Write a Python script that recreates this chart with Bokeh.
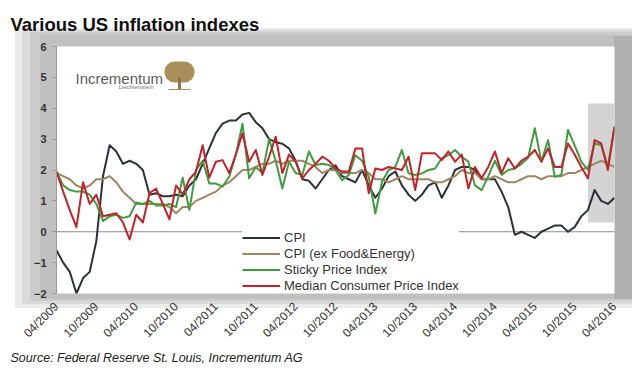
from math import pi
from bokeh.plotting import figure
from bokeh.models import (Range1d, FixedTicker, Span, BoxAnnotation, Label,
                          Legend, LegendItem, Title)
from bokeh.embed import file_html
from bokeh.resources import INLINE

# ---------------- data (month index 0 = 04/2009) ----------------
months = list(range(85))
tick_months = [0, 6, 12, 18, 24, 30, 36, 42, 48, 54, 60, 66, 72, 78, 84]
tick_labels = ["04/2009", "10/2009", "04/2010", "10/2010", "04/2011", "10/2011",
               "04/2012", "10/2012", "04/2013", "10/2013", "04/2014", "10/2014",
               "04/2015", "10/2015", "04/2016"]
y_ticks = [-2, -1, 0, 1, 2, 3, 4, 5, 6]

cpi = [-0.6, -1.0, -1.3, -2.0, -1.5, -1.3, -0.3, 1.8, 2.8,
       2.6, 2.2, 2.3, 2.2, 2.0, 1.2, 1.25, 1.15, 1.15, 1.2, 1.15, 1.5,
       1.7, 2.2, 2.7, 3.2, 3.5, 3.6, 3.6, 3.8, 3.85, 3.55, 3.35, 3.0,
       2.9, 2.85, 2.7, 2.3, 1.7, 1.65, 1.4, 1.7, 2.0, 2.15, 1.8, 1.7,
       1.6, 2.0, 1.5, 1.1, 1.4, 1.8, 1.95, 1.5, 1.2, 1.0, 1.2, 1.5,
       1.6, 1.1, 1.5, 2.0, 2.1, 2.1, 2.0, 1.7, 1.7, 1.7, 1.3, 0.8,
       -0.1, 0.0, -0.1, -0.2, 0.0, 0.1, 0.2, 0.2, 0.0, 0.15, 0.5, 0.7,
       1.35, 1.0, 0.9, 1.1]
core = [1.9, 1.8, 1.7, 1.5, 1.4, 1.5, 1.7, 1.7, 1.8,
        1.6, 1.3, 1.1, 0.9, 0.9, 0.9, 0.9, 0.9, 0.8, 0.6, 0.8, 0.8,
        1.0, 1.1, 1.2, 1.3, 1.5, 1.6, 1.8, 2.0, 2.0, 2.1, 2.2, 2.2,
        2.3, 2.2, 2.3, 2.3, 2.3, 2.2, 2.1, 1.9, 2.0, 2.0, 1.9, 1.9,
        1.9, 2.0, 1.9, 1.7, 1.7, 1.6, 1.7, 1.8, 1.7, 1.7, 1.7, 1.7,
        1.6, 1.6, 1.7, 1.8, 2.0, 1.9, 1.9, 1.7, 1.7, 1.8, 1.7, 1.6,
        1.6, 1.7, 1.8, 1.8, 1.7, 1.8, 1.8, 1.8, 1.9, 1.9, 2.0, 2.1,
        2.2, 2.3, 2.2, 2.1]
sticky = [1.95, 1.5, 1.35, 1.3, 1.3, 1.2, 0.9, 0.35, 0.5,
          0.55, 0.45, 0.5, 0.95, 0.9, 1.0, 0.85, 0.85, 0.9, 0.8, 1.75, 0.7,
          2.0, 2.3, 1.56, 1.56, 1.46, 1.78, 2.5, 3.5, 1.73, 2.1, 1.9, 3.0,
          2.3, 1.4, 2.27, 1.9, 1.84, 2.6, 2.16, 2.2, 2.16, 2.0, 1.67, 1.84,
          2.48, 2.3, 1.78, 0.59, 1.62, 2.0, 2.1, 2.65, 1.89, 1.84, 1.89, 2.0,
          2.05, 2.38, 2.48, 2.65, 2.43, 2.27, 1.5, 1.35, 1.8, 2.3, 1.84, 2.0,
          2.05, 2.2, 2.4, 3.35, 2.27, 2.97, 1.78, 1.84, 3.3, 2.8, 2.27, 2.0,
          2.86, 2.8, 2.1, 3.4]
median = [1.95, 1.3, 0.7, 0.15, 1.6, 0.9, 1.2, 0.5, 0.55,
          0.6, 0.3, -0.25, 0.55, 0.3, 1.25, 1.4, 0.9, 0.4, 1.5, 1.2, 1.7,
          1.95, 2.8, 1.75, 2.27, 2.32, 1.9, 2.5, 3.19, 2.27, 2.65, 1.84, 2.43,
          3.08, 1.9, 2.5, 2.27, 1.73, 2.0, 2.2, 2.43, 2.3, 2.05, 1.95, 1.95,
          2.7, 2.7, 1.25, 2.05, 2.0, 2.1, 2.05, 2.0, 2.43, 1.35, 2.54, 2.54,
          2.54, 2.32, 2.6, 2.27, 2.5, 1.4, 2.1, 1.73, 2.1, 2.6, 1.9, 2.38,
          2.05, 2.3, 2.43, 2.65, 2.27, 2.7, 2.1, 2.1, 2.86, 2.5, 2.1, 1.73,
          2.97, 2.86, 2.0, 3.4]
series_names = ["CPI", "CPI (ex Food&Energy)", "Sticky Price Index",
                "Median Consumer Price Index"]
highlight_x = (80, 84)
highlight_y = (0.3, 4.15)

# ---------------- figure ----------------
FONT = "Liberation Sans"

# gray frame behind the plotting area, painted as CSS behind a transparent border
def layer(color, x, y, w, h):
    return (f"linear-gradient({color},{color})", f"{x}px {y}px", f"{w}px {h}px")

layers = [
    layer("#b0b0b0", 614, 36, 18, 263),
    layer("#c0c0c0", 40, 35, 593, 264),
    layer("#cbcbcb", 30, 32, 604, 269),
    layer("#dadada", 22, 30, 613, 274),
    layer("#ebebeb", 15, 28, 623, 280),
]
css = {
    "background-color": "white",
    "background-image": ", ".join(l[0] for l in layers),
    "background-position": ", ".join(l[1] for l in layers),
    "background-size": ", ".join(l[2] for l in layers),
    "background-repeat": "no-repeat",
}

p = figure(frame_width=558, frame_height=247, min_border_left=56,
           min_border_right=18, min_border_top=45, min_border_bottom=70,
           x_range=Range1d(0, 84), y_range=Range1d(-2, 6),
           output_backend="svg", toolbar_location=None,
           background_fill_color="white", border_fill_alpha=0,
           outline_line_color=None, styles=css)
p.grid.visible = False

# title / source
p.title.text = "Various US inflation indexes"
p.title.align = "left"
p.title.offset = -46
p.title.text_font = FONT
p.title.text_font_size = "18.5px"
p.title.text_font_style = "bold"
p.title.text_color = "#111111"
p.title.standoff = 23

src = Title(text="Source: Federal Reserve St. Louis, Incrementum AG",
            align="left", offset=-46, text_font=FONT, text_font_size="12.5px",
            text_font_style="italic", text_color="#222222", standoff=0)
p.add_layout(src, "below")

# page-pixel helpers for in-frame decorations (frame: left 56, bottom 292)
def sx(px):
    return px - 56

def sy(py):
    return 292 - py

def sbox(l, r, t, b, color, **kw):
    box = BoxAnnotation(left=sx(l), right=sx(r), top=sy(t), bottom=sy(b),
                        left_units="screen", right_units="screen",
                        top_units="screen", bottom_units="screen",
                        fill_color=color, fill_alpha=1, line_color=None, **kw)
    p.add_layout(box)
    return box

# highlight rectangle
p.add_layout(BoxAnnotation(left=highlight_x[0], right=highlight_x[1],
                           bottom=highlight_y[0], top=highlight_y[1],
                           fill_color="#d4d4d4", fill_alpha=1, line_color=None,
                           level="underlay"))
# zero line
p.add_layout(Span(location=0, dimension="width", line_color="#8a8a8a",
                  line_width=1, level="underlay"))

# ---------------- lines ----------------
colors = ["#2c313a", "#a08562", "#3f9d3f", "#c4222b"]
renderers = []
for ys, c in zip([cpi, core, sticky, median], colors):
    r = p.line(months, ys, line_color=c, line_width=2, line_join="round")
    renderers.append(r)

legend = Legend(items=[LegendItem(label=n, renderers=[r])
                       for n, r in zip(series_names, renderers)],
                location=(186, 0), orientation="vertical",
                label_text_font=FONT, label_text_font_size="13px",
                label_text_color="#333333", label_standoff=4,
                glyph_width=38, glyph_height=13, label_height=13,
                spacing=1, padding=6, margin=0,
                border_line_color=None,
                background_fill_color="white", background_fill_alpha=1)
p.add_layout(legend, "center")

# ---------------- axes ----------------
yax = p.yaxis[0]
yax.ticker = FixedTicker(ticks=y_ticks)
yax.axis_line_color = "#9a9a9a"
yax.major_tick_line_color = "#9a9a9a"
yax.major_tick_out = 4
yax.major_tick_in = 0
yax.minor_tick_line_color = None
yax.major_label_standoff = 6
yax.major_label_text_font = FONT
yax.major_label_text_font_size = "11px"
yax.major_label_text_font_style = "bold"
yax.major_label_text_color = "#333333"

xax = p.xaxis[0]
xax.ticker = FixedTicker(ticks=tick_months)
xax.major_label_overrides = {m: lab for m, lab in zip(tick_months, tick_labels)}
xax.major_label_orientation = pi / 4
xax.axis_line_color = None
xax.major_tick_line_color = None
xax.minor_tick_line_color = None
xax.major_label_standoff = 5
xax.major_label_text_font = FONT
xax.major_label_text_font_size = "12px"
xax.major_label_text_color = "#333333"

# logo (inside the plotting area)
p.add_layout(Label(x=sx(75), y=sy(77), x_units="screen", y_units="screen",
                   text="Incrementum", text_font=FONT, text_font_size="15px",
                   text_color="#5c5c5c", text_baseline="alphabetic"))
p.add_layout(Label(x=sx(118), y=sy(85), x_units="screen", y_units="screen",
                   text="Liechtenstein", text_font=FONT, text_font_size="6px",
                   text_color="#7a7a7a", text_baseline="alphabetic"))
sbox(164, 194, 60, 81, "#a88f5c", border_radius=10)
sbox(177.5, 180.5, 76, 88, "#8c7444")
sbox(168, 190, 87.5, 88.5, "#a88f5c")

open("out.html", "w").write(file_html(p, INLINE))
